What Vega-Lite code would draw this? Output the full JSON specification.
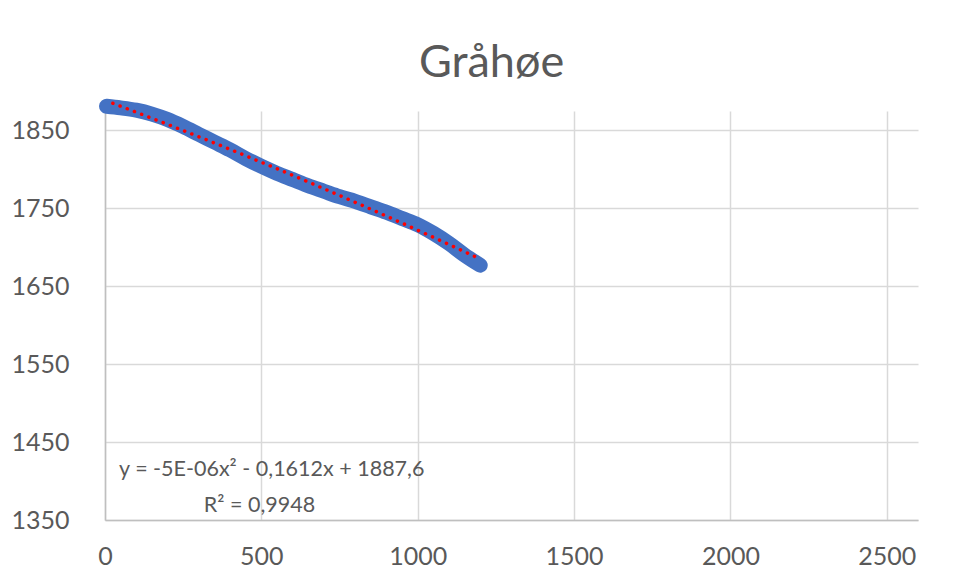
{
  "$schema": "https://vega.github.io/schema/vega-lite/v6.json",
  "width": 813,
  "height": 409,
  "autosize": {"type": "none"},
  "padding": {"left": 105, "top": 111, "right": 37, "bottom": 61},
  "background": "white",
  "config": {"view": {"stroke": null}},
  "title": {"text": "Gråhøe", "font": "Lato", "fontSize": 45, "fontWeight": "normal", "color": "#595959", "anchor": "middle", "offset": 10, "dx": -20},
  "datasets": {
    "track": [
      {"dist": 5, "elev": 1881}, {"dist": 50, "elev": 1879}, {"dist": 100, "elev": 1876},
      {"dist": 150, "elev": 1871}, {"dist": 200, "elev": 1864}, {"dist": 250, "elev": 1855},
      {"dist": 300, "elev": 1845}, {"dist": 350, "elev": 1835}, {"dist": 400, "elev": 1825},
      {"dist": 450, "elev": 1814}, {"dist": 500, "elev": 1804}, {"dist": 550, "elev": 1795},
      {"dist": 600, "elev": 1787}, {"dist": 650, "elev": 1779}, {"dist": 700, "elev": 1772},
      {"dist": 750, "elev": 1765}, {"dist": 800, "elev": 1759}, {"dist": 850, "elev": 1752},
      {"dist": 900, "elev": 1745}, {"dist": 950, "elev": 1737}, {"dist": 1000, "elev": 1729},
      {"dist": 1050, "elev": 1718}, {"dist": 1100, "elev": 1705}, {"dist": 1150, "elev": 1690},
      {"dist": 1200, "elev": 1677}
    ],
    "labels": [
      {"dist": 45, "elev": 1414, "text": "y = -5E-06x² - 0,1612x + 1887,6"},
      {"dist": 316, "elev": 1368, "text": "R² = 0,9948"}
    ]
  },
  "layer": [
    {
      "data": {"name": "track"},
      "mark": {"type": "line", "color": "#4472C4", "strokeWidth": 15, "strokeCap": "round", "strokeJoin": "round", "interpolate": "monotone", "clip": false},
      "encoding": {
        "x": {"field": "dist", "type": "quantitative", "scale": {"domain": [0, 2500]},
          "axis": {"values": [0, 500, 1000, 1500, 2000, 2500], "format": "d", "title": null, "labelFont": "Lato", "labelFontSize": 25, "labelColor": "#595959", "labelPadding": 24, "ticks": false, "domainColor": "#BFBFBF", "domainWidth": 1.5, "gridColor": "#D9D9D9", "gridWidth": 1.5, "labelFlush": false}},
        "y": {"field": "elev", "type": "quantitative", "scale": {"domain": [1350, 1875], "nice": false, "zero": false},
          "axis": {"values": [1350, 1450, 1550, 1650, 1750, 1850], "format": "d", "title": null, "labelFont": "Lato", "labelFontSize": 25, "labelColor": "#595959", "labelPadding": 36, "ticks": false, "domainColor": "#BFBFBF", "domainWidth": 1.5, "gridColor": "#D9D9D9", "gridWidth": 1.5, "labelFlush": false}}
      }
    },
    {
      "data": {"name": "track"},
      "transform": [{"regression": "elev", "on": "dist", "method": "poly", "order": 2, "extent": [25, 1200]}],
      "mark": {"type": "line", "color": "#FF0000", "strokeWidth": 3.5, "strokeCap": "round", "strokeDash": [0.1, 7.6]},
      "encoding": {
        "x": {"field": "dist", "type": "quantitative"},
        "y": {"field": "elev", "type": "quantitative"}
      }
    },
    {
      "data": {"name": "labels"},
      "mark": {"type": "text", "font": "Lato", "fontSize": 21.5, "color": "#595959", "baseline": "middle", "align": "left"},
      "encoding": {
        "x": {"field": "dist", "type": "quantitative"},
        "y": {"field": "elev", "type": "quantitative"},
        "text": {"field": "text"}
      }
    }
  ]
}
